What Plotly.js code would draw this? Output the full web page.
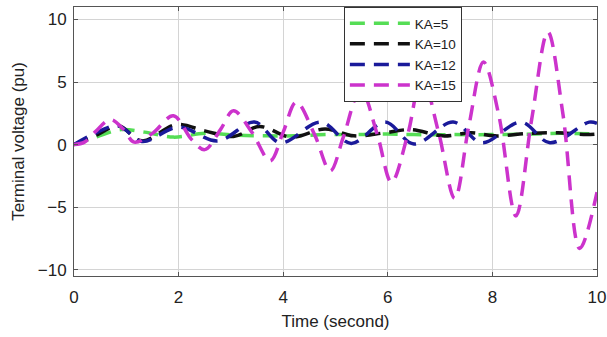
<!DOCTYPE html>
<html>
<head>
<meta charset="utf-8">
<script src="https://cdn.plot.ly/plotly-3.0.1.min.js"></script>
<style>html,body{margin:0;padding:0;background:#fff;}#chart{width:607px;height:337px;}</style>
</head>
<body>
<div id="chart"></div>
<script>
// KA = 5
const tKA5 = [0, 0.2, 0.45, 0.9, 1.35, 1.9, 2.5, 3.1, 3.7, 4.2, 4.8, 5.4, 6.0, 6.5, 7.2, 8.0, 8.8, 9.3, 10];
const vKA5 = [0, 0.3, 0.65, 1.2, 1.0, 0.6, 0.9, 0.75, 0.7, 0.7, 0.8, 0.8, 0.85, 0.8, 0.8, 0.8, 0.85, 0.9, 0.85];
// KA = 10
const tKA10 = [0, 0.45, 0.85, 1.3, 1.95, 2.5, 3.05, 3.55, 4.15, 4.8, 5.35, 5.95, 6.45, 7.05, 7.6, 8.05, 8.7, 9.25, 9.8, 10];
const vKA10 = [0, 0.8, 1.5, 0.3, 1.6, 1.1, 0.65, 1.45, 0.6, 1.25, 0.7, 0.95, 1.2, 0.7, 0.95, 0.7, 0.9, 0.95, 0.8, 0.85];
// KA = 12
const tKA12 = [0, 0.4, 0.85, 1.3, 2.0, 2.75, 3.45, 3.95, 4.72, 5.3, 5.95, 6.5, 7.25, 7.8, 8.55, 9.1, 9.85, 10];
const vKA12 = [0, 0.9, 1.5, 0.25, 1.4, 0.3, 1.8, 0.15, 1.8, 0.1, 1.8, 0.05, 1.8, 0.15, 1.8, 0.15, 1.8, 1.7];
// KA = 15
const tKA15 = [0, 0.2, 0.4, 0.7, 0.95, 1.15, 1.5, 1.9, 2.25, 2.5, 2.8, 3.05, 3.4, 3.75, 4.0, 4.25, 4.6, 4.9, 5.15, 5.48, 5.8, 6.07, 6.38, 6.65, 6.97, 7.28, 7.55, 7.83, 8.12, 8.45, 8.75, 9.06, 9.35, 9.67, 10];
const vKA15 = [0, 0.2, 1.0, 2.0, 1.2, 0.2, 0.9, 2.3, 0.4, -0.4, 1.2, 2.7, 1.0, -1.3, 1.0, 3.4, 0.8, -2.1, 0.6, 4.4, 0.8, -3.0, 0.8, 5.4, 1.0, -4.3, 1.5, 6.6, 2.4, -5.7, 2.0, 9.0, 2.4, -8.3, -3.8];

const names = ['KA=5', 'KA=10', 'KA=12', 'KA=15'];
const colors = ['#55dd55', '#111111', '#1a1a9a', '#cc33cc'];
const ts = [tKA5, tKA10, tKA12, tKA15];
const vs = [vKA5, vKA10, vKA12, vKA15];

const FONT = 'Liberation Sans, Arial, sans-serif';

const traces = names.map((n, i) => ({
  x: ts[i], y: vs[i], name: n, type: 'scatter', mode: 'lines',
  line: {color: colors[i], width: 3.5, dash: '15px,9px', shape: 'spline', smoothing: 1}
}));

const axisCommon = {
  showline: true, mirror: 'ticks', linecolor: '#555', linewidth: 1,
  showgrid: true, gridcolor: '#d4d4d4', gridwidth: 1,
  ticks: 'inside', ticklen: 4, tickcolor: '#555',
  zeroline: false,
  tickfont: {family: FONT, size: 17, color: '#222'}
};

const layout = {
  width: 607, height: 337,
  margin: {l: 74, r: 10, t: 7, b: 61},
  paper_bgcolor: '#fff', plot_bgcolor: '#fff',
  showlegend: true,
  legend: {
    x: 0.516, y: 1, xanchor: 'left', yanchor: 'top',
    bgcolor: '#fff', bordercolor: '#333', borderwidth: 1,
    font: {family: FONT, size: 13.5, color: '#222'},
    itemwidth: 60, tracegroupgap: 0
  },
  xaxis: Object.assign({}, axisCommon, {
    range: [0, 10], tickvals: [0, 2, 4, 6, 8, 10], ticklabelstandoff: 6,
    title: {text: 'Time (second)', font: {family: FONT, size: 17, color: '#222'}, standoff: 8}
  }),
  yaxis: Object.assign({}, axisCommon, {
    range: [-10.5, 11], tickvals: [-10, -5, 0, 5, 10], ticklabelstandoff: 3,
    title: {text: 'Terminal voltage (pu)', font: {family: FONT, size: 17, color: '#222'}, standoff: 8}
  })
};

Plotly.newPlot('chart', traces, layout, {displayModeBar: false, staticPlot: true});
</script>
</body>
</html>
